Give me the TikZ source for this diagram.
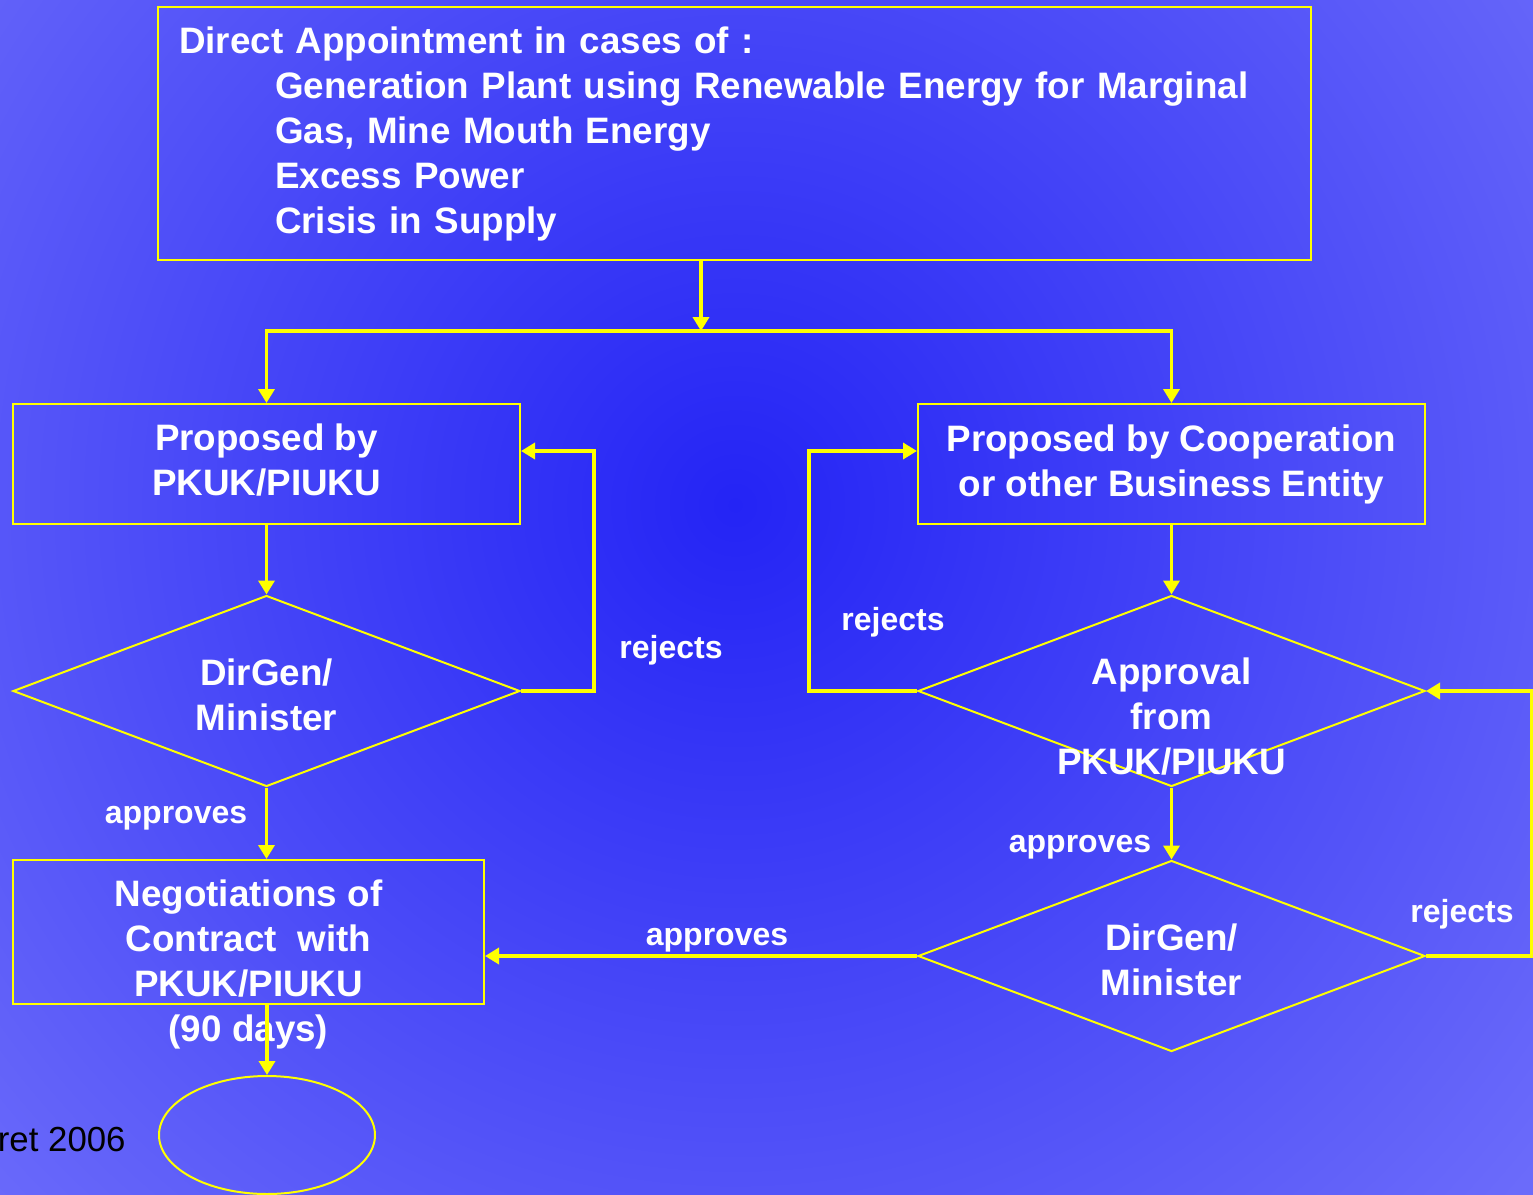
\documentclass[tikz,border=0pt]{standalone}
\usepackage{fontspec}
\setmainfont{Liberation Sans}
\usetikzlibrary{arrows.meta,shapes.geometric}
\definecolor{BGIN}{HTML}{2424F5}
\definecolor{BGOUT}{HTML}{6B6BFA}
\definecolor{YEL}{HTML}{FFFF00}
\begin{document}
\begin{tikzpicture}[x=0.5pt,y=-0.5pt]
\tikzset{txt/.style={text=white,font=\bfseries\fontsize{18.4}{22.5}\selectfont,align=center},
 lbl/.style={text=white,font=\bfseries\fontsize{16}{20}\selectfont},
 box/.style={draw=YEL,line width=1pt,rectangle,inner sep=0pt,minimum width=253.5pt,minimum height=60pt,txt},
 dmd/.style={draw=YEL,line width=1pt,diamond,inner sep=0pt,minimum width=253.5pt,minimum height=95.5pt},
 conn/.style={YEL,line width=1.75pt,-{Triangle[length=7pt,width=8pt]}}}
\useasboundingbox (0,0) rectangle (1533,1195);
\fill[BGOUT] (0,0) rectangle (1533,1195);
\begin{scope}
\clip (0,0) rectangle (1533,1195);
\shade[inner color=BGIN,outer color=BGOUT] (735,505) circle (520pt);
\end{scope}
\node[box,minimum width=576.5pt,minimum height=126.5pt,text width=555.5pt,align=left,inner xsep=10.5pt] (cases) at (734.5,133.5)
 {Direct Appointment in cases of :\\\hspace*{48pt}Generation Plant using Renewable Energy for Marginal\\\hspace*{48pt}Gas, Mine Mouth Energy\\\hspace*{48pt}Excess Power\\\hspace*{48pt}Crisis in Supply};
\node[box,text depth=4pt] (propA) at (266.5,464) {Proposed by\\PKUK/PIUKU};
\node[box] (propB) at (1171.5,464) {Proposed by Cooperation\\or other Business Entity};
\node[dmd,label={[txt,yshift=-2pt]center:{DirGen/\\Minister}}] (dgA) at (266.5,691) {};
\node[dmd,label={[txt,yshift=-13pt]center:{Approval\\from\\PKUK/PIUKU}}] (apr) at (1171.5,691) {};
\node[dmd,label={[txt,yshift=-2pt]center:{DirGen/\\Minister}}] (dgB) at (1171.5,956) {};
\node[box,minimum width=235.5pt,minimum height=72pt,label={[txt,yshift=-16pt]center:{Negotiations of\\Contract~ with\\PKUK/PIUKU\\(90 days)}}] (nego) at (248.5,932) {};
\node[draw=YEL,line width=1pt,ellipse,inner sep=0pt,minimum width=108pt,minimum height=59pt] (fin) at (267,1135) {};
\node[anchor=east,inner sep=0pt,font=\fontsize{17.4}{20}\selectfont] (date) at (126,1140) {ret 2006};
\coordinate (fork) at (701,331);
\draw[conn] (cases.south -| fork) -- (fork);
\draw[conn] (fork) -| (propA.north);
\draw[conn] (fork) -| (propB.north);
\draw[conn] (propA.south) -- (dgA.north);
\draw[conn] (dgA.east) -- ++(73,0) |- ([yshift=6.5pt]propA.east);
\draw[conn] (dgA.south) -- (dgA.south |- nego.north);
\draw[conn] (nego.south -| fin.north) -- (fin.north);
\draw[conn] (propB.south) -- (apr.north);
\draw[conn] (apr.west) -- ++(-108,0) |- ([yshift=6.5pt]propB.west);
\draw[conn] (apr.south) -- (dgB.north);
\draw[conn] (dgB.west) -- (dgB.west -| nego.east);
\draw[conn] (dgB.east) -- ++(106,0) |- (apr.east);
\node[lbl] (rejA) at (671,650) {rejects};
\node[lbl] (rejB) at (893,622) {rejects};
\node[lbl] (rejC) at (1462,914) {rejects};
\node[lbl] (appA) at (176,818) {approves};
\node[lbl] (appB) at (1080,847) {approves};
\node[lbl] (appC) at (717,940) {approves};
\end{tikzpicture}
\end{document}
